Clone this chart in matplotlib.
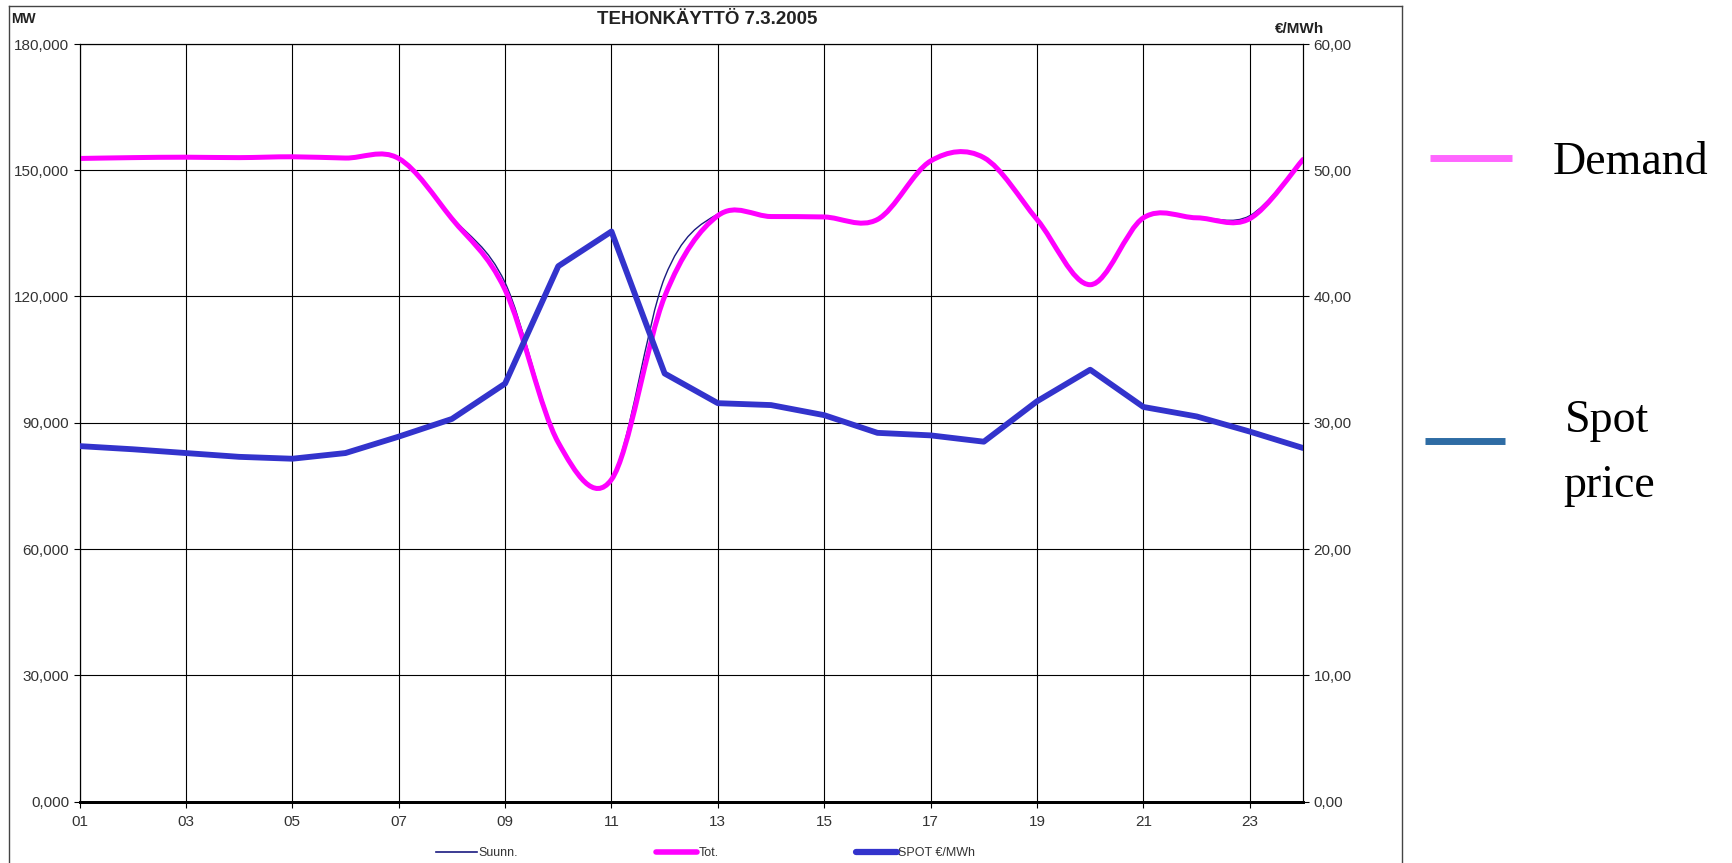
import numpy as np
import matplotlib
matplotlib.use("Agg")
import matplotlib.pyplot as plt
from matplotlib.path import Path
from matplotlib.patches import PathPatch
from matplotlib.lines import Line2D

# ---------------- data ----------------
hours = list(range(1, 25))
tot_mw = [152800, 153000, 153100, 153000, 153200, 152900, 152800, 138500,
          121600, 85300, 76500, 120000, 139200, 139000, 138900, 138300,
          152200, 153000, 138300, 122800, 138700, 138700, 138500, 152550]
suunn_mw = [152800, 153000, 153100, 153000, 153200, 152900, 152800, 138900,
            123300, 85800, 76800, 124500, 139600, 139000, 138900, 138300,
            152200, 153000, 138300, 122800, 138700, 138800, 139200, 152550]
spot_eur = [28.15, 27.9, 27.6, 27.3, 27.15, 27.6, 28.9, 30.3, 33.1, 42.4,
            45.15, 33.9, 31.55, 31.4, 30.6, 29.2, 29.0, 28.5, 31.7, 34.2,
            31.25, 30.5, 29.3, 28.0]
x_ticks = [1, 3, 5, 7, 9, 11, 13, 15, 17, 19, 21, 23]
x_labels = ["01", "03", "05", "07", "09", "11", "13", "15", "17", "19", "21", "23"]
mw_ticks = [0, 30000, 60000, 90000, 120000, 150000, 180000]
mw_labels = ["0,000", "30,000", "60,000", "90,000", "120,000", "150,000", "180,000"]
eur_ticks = [0, 10, 20, 30, 40, 50, 60]
eur_labels = ["0,00", "10,00", "20,00", "30,00", "40,00", "50,00", "60,00"]
title = "TEHONKÄYTTÖ 7.3.2005"

W, H = 1733, 863
fig = plt.figure(figsize=(W / 100, H / 100), dpi=100)
plt.rcParams['font.family'] = ['Liberation Sans', 'DejaVu Sans']


def fx(px):
    return px / W


def fy(py):
    return 1 - py / H


ax_l, ax_r, ax_t, ax_b = 79.5, 1303, 44, 801.5
ax = fig.add_axes([fx(ax_l), fy(ax_b), fx(ax_r - ax_l), (ax_b - ax_t) / H])
ax2 = ax.twinx()


def smooth_path(xs, ys):
    xs = np.asarray(xs, float)
    ys = np.asarray(ys, float)
    P = np.column_stack([xs, ys])
    n = len(P)
    verts = [P[0]]
    codes = [Path.MOVETO]
    for i in range(n - 1):
        p_prev = P[i - 1] if i > 0 else P[i]
        p_next2 = P[i + 2] if i + 2 < n else P[i + 1]
        c1 = P[i] + (P[i + 1] - p_prev) / 6.0
        c2 = P[i + 1] - (p_next2 - P[i]) / 6.0
        verts += [c1, c2, P[i + 1]]
        codes += [Path.CURVE4] * 3
    return Path(verts, codes)


# grid
ax.set_xlim(1, 24)
ax.set_ylim(0, 180000)
ax2.set_ylim(0, 60)
ax.set_xticks(x_ticks)
ax.set_xticklabels(x_labels)
ax.set_yticks(mw_ticks)
ax.set_yticklabels(mw_labels)
ax2.set_yticks(eur_ticks)
ax2.set_yticklabels(eur_labels)
ax.grid(True, color="black", linewidth=0.8)
ax.set_axisbelow(True)

tick_kw = dict(labelsize=11, colors="#333333", length=4, width=0.8, direction="out")
ax.tick_params(axis="both", **tick_kw)
ax.tick_params(axis="x", pad=6)
ax2.tick_params(axis="y", **tick_kw)
ax.tick_params(axis="both", color="black")
ax2.tick_params(axis="y", color="black")
for a in (ax, ax2):
    for s in a.spines.values():
        s.set_color("black")
        s.set_linewidth(0.8)
    a.spines["bottom"].set_linewidth(2.0)

# lines
ax.add_patch(PathPatch(smooth_path(hours, suunn_mw), fill=False,
                       edgecolor="#1a1a80", linewidth=1.0, zorder=3))
ax.add_patch(PathPatch(smooth_path(hours, tot_mw), fill=False,
                       edgecolor="#ff00ff", linewidth=3.6, capstyle="round",
                       joinstyle="round", zorder=4))
ax2.plot(hours, spot_eur, color="#3333cc", linewidth=4.2,
         solid_joinstyle="round", solid_capstyle="round", zorder=5)

# texts in chart frame
fig.text(fx(707), fy(20), title, ha="center", va="center",
         fontsize=13.5, fontweight="bold", color="#222222")
fig.text(fx(11), fy(19), "MW", ha="left", va="center",
         fontsize=10, fontweight="bold", color="#222222")
fig.text(fx(1275), fy(29), "€/MWh", ha="left", va="center",
         fontsize=11, fontweight="bold", color="#222222")

# outer frame
frame_kw = dict(color="#444444", linewidth=1.0, transform=fig.transFigure)
fig.add_artist(Line2D([fx(9), fx(9)], [fy(6), fy(870)], **frame_kw))
fig.add_artist(Line2D([fx(9), fx(1402)], [fy(6), fy(6)], **frame_kw))
fig.add_artist(Line2D([fx(1402), fx(1402)], [fy(6), fy(870)], **frame_kw))

# bottom legend
leg_y = 852
fig.add_artist(Line2D([fx(436), fx(477)], [fy(leg_y), fy(leg_y)],
                      color="#1a1a80", linewidth=1.2, transform=fig.transFigure))
fig.text(fx(478), fy(leg_y + 1), "Suunn.", ha="left", va="center",
         fontsize=9, color="#333333")
fig.add_artist(Line2D([fx(656), fx(697)], [fy(leg_y), fy(leg_y)],
                      color="#ff00ff", linewidth=4, solid_capstyle="round",
                      transform=fig.transFigure))
fig.text(fx(699), fy(leg_y + 1), "Tot.", ha="left", va="center",
         fontsize=9, color="#333333")
fig.add_artist(Line2D([fx(856), fx(897)], [fy(leg_y), fy(leg_y)],
                      color="#3333cc", linewidth=4.5, solid_capstyle="round",
                      transform=fig.transFigure))
fig.text(fx(898), fy(leg_y + 1), "SPOT €/MWh", ha="left", va="center",
         fontsize=9, color="#333333")

# side annotations
serif = ["Liberation Serif", "DejaVu Serif"]
fig.add_artist(Line2D([fx(1430), fx(1512)], [fy(158), fy(158)],
                      color="#ff66ff", linewidth=5, solid_capstyle="butt",
                      transform=fig.transFigure))
fig.text(fx(1553), fy(163), "Demand", ha="left", va="center",
         fontsize=33, family=serif, color="black")
fig.add_artist(Line2D([fx(1425), fx(1505)], [fy(441), fy(441)],
                      color="#2e6ca4", linewidth=5, solid_capstyle="butt",
                      transform=fig.transFigure))
fig.text(fx(1565), fy(421), "Spot", ha="left", va="center",
         fontsize=33, family=serif, color="black")
fig.text(fx(1563), fy(486), "price", ha="left", va="center",
         fontsize=33, family=serif, color="black")

fig.savefig("out.png", dpi=100)
